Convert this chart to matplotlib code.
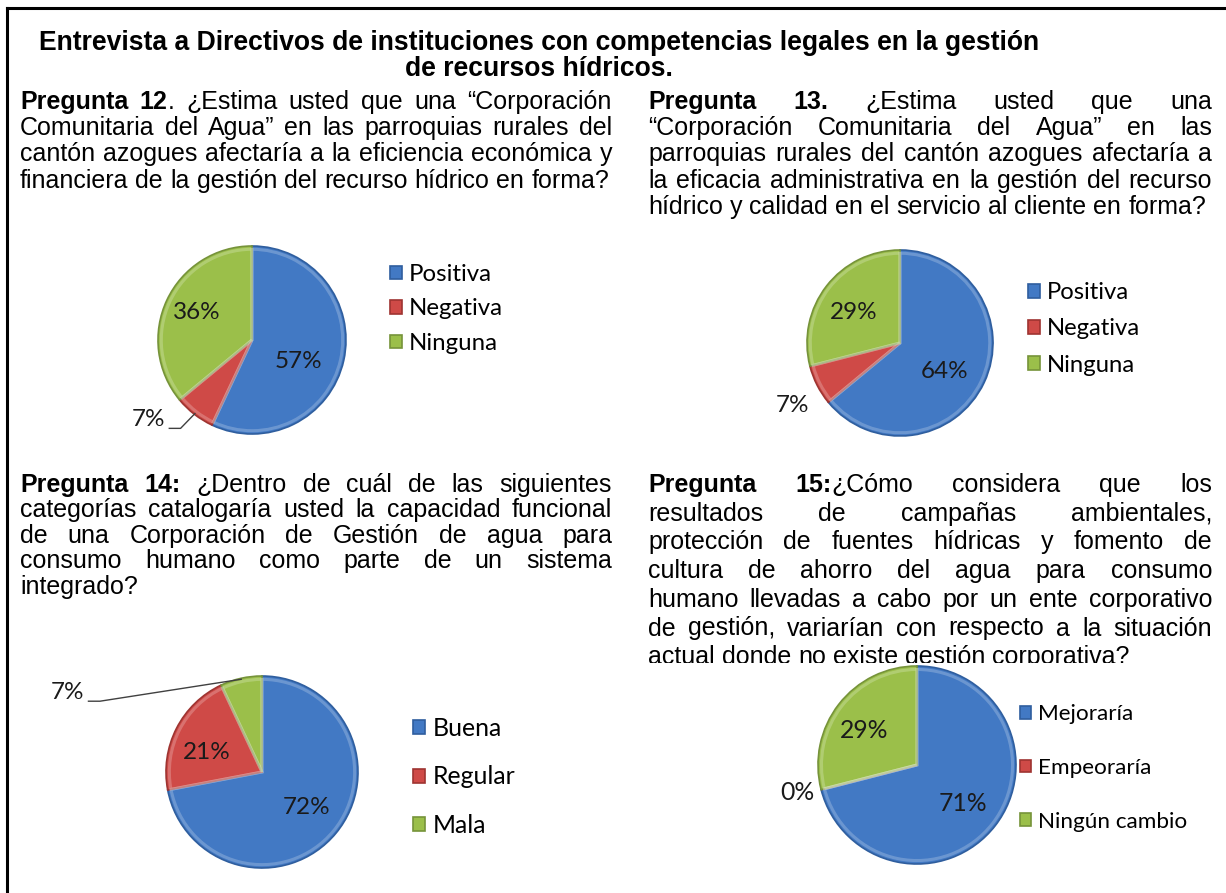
import numpy as np
import matplotlib
matplotlib.use('Agg')
import matplotlib.pyplot as plt
from matplotlib.lines import Line2D

# ---- data ----
q12_labels = ['Positiva', 'Negativa', 'Ninguna']
q12_values = [57, 7, 36]
q13_labels = ['Positiva', 'Negativa', 'Ninguna']
q13_values = [64, 7, 29]
q14_labels = ['Buena', 'Regular', 'Mala']
q14_values = [72, 21, 7]
q15_labels = ['Mejoraría', 'Empeoraría', 'Ningún cambio']
q15_values = [71, 0, 29]

title_lines = ['Entrevista a Directivos de instituciones con competencias legales en la gestión',
               'de recursos hídricos.']
q12_text = ['*Pregunta* *12*. ¿Estima usted que una “Corporación',
            'Comunitaria del Agua” en las parroquias rurales del',
            'cantón azogues  afectaría a la eficiencia económica y',
            'financiera de la gestión del recurso hídrico en forma?']
q13_text = ['*Pregunta* *13.* ¿Estima usted que una',
            '“Corporación Comunitaria del Agua” en las',
            'parroquias rurales del cantón azogues  afectaría a',
            'la eficacia administrativa en la gestión del recurso',
            'hídrico y calidad en el servicio al cliente en forma?']
q14_text = ['*Pregunta* *14:* ¿Dentro de cuál de las siguientes',
            'categorías catalogaría usted la capacidad funcional',
            'de una Corporación de Gestión de agua para',
            'consumo humano como parte de un sistema',
            'integrado?']
q15_text = ['*Pregunta* *15:*¿Cómo considera que los',
            'resultados de campañas ambientales,',
            'protección de fuentes hídricas  y fomento de',
            'cultura de ahorro del agua para consumo',
            'humano llevadas a cabo por un ente corporativo',
            'de gestión, variarían con respecto a la situación',
            'actual donde no existe gestión corporativa?']

colors = ['#4279C4', '#CF4A47', '#9BBF4A']
edges = ['#2F5E9E', '#9E3431', '#76933A']

W, H = 1226, 893
fig = plt.figure(figsize=(W / 100, H / 100), dpi=100)
fig.patch.set_facecolor('white')
renderer = fig.canvas.get_renderer()
TXT = dict(family='Liberation Sans', size=18.0, color='black')


def fx(x):
    return x / W


def fy(y):
    return 1 - y / H


def seg_width(s, bold):
    t = fig.text(0, 0, s, weight='bold' if bold else 'normal', **TXT)
    w = t.get_window_extent(renderer).width
    t.remove()
    return w


def parse(word):
    # text between '*' is bold
    return [(p, i % 2 == 1) for i, p in enumerate(word.split('*')) if p]


space = seg_width('a a', False) - seg_width('aa', False)


def paragraph(lines, x0, x1, y0, dy):
    for k, line in enumerate(lines):
        words = [parse(w) for w in line.split()]
        widths = [sum(seg_width(s, b) for s, b in w) for w in words]
        if k == len(lines) - 1 or len(words) < 2:
            gap = space
        else:
            gap = (x1 - x0 - sum(widths)) / (len(words) - 1)
        x = x0
        y = y0 + k * dy
        for w, wd in zip(words, widths):
            xx = x
            for s, b in w:
                fig.text(fx(xx), fy(y), s, ha='left', va='baseline',
                         weight='bold' if b else 'normal', zorder=1, **TXT)
                xx += seg_width(s, b)
            x += wd + gap


# frame (top and left edges visible)
fig.add_artist(Line2D([fx(7), fx(W)], [fy(8), fy(8)], color='black', lw=2.2))
fig.add_artist(Line2D([fx(7), fx(7)], [fy(8), fy(H)], color='black', lw=2.2))

for k, line in enumerate(title_lines):
    fig.text(fx(539), fy(50 + k * 26.5), line, ha='center', va='baseline',
             weight='bold', **dict(TXT, size=19.1))

paragraph(q12_text, 20, 612, 109, 26.2)
paragraph(q13_text, 648, 1212, 109, 26.2)
paragraph(q14_text, 20, 612, 492, 25.4)
paragraph(q15_text, 648, 1212, 492, 28.7)


def pie(rect, center, r, values, labels, lab_place, leader, leg_xy, leg_size,
        lab_size, leg_spacing, cover=False):
    L, T, R, B = rect
    cx, cy = center
    ax = fig.add_axes([fx(L), fy(B), (R - L) / W, (B - T) / H])
    wedges, _ = ax.pie(values, colors=colors, startangle=90, counterclock=False,
                       radius=1, wedgeprops=dict(linewidth=1.2))
    # soft highlight to hint the bevelled look
    ax.pie(values, colors=['none'] * 3, startangle=90, counterclock=False,
           radius=0.965, wedgeprops=dict(linewidth=2.2, edgecolor=(1, 1, 1, 0.22)))
    ax.set_aspect('auto')
    ax.set_xlim((L - cx) / r, (R - cx) / r)
    ax.set_ylim((cy - B) / r, (cy - T) / r)
    ax.set_xticks([])
    ax.set_yticks([])
    for s in ax.spines.values():
        s.set_visible(False)
    if cover:
        # white chart area hides the bottom of the text above it
        ax.set_frame_on(True)
        for s in ax.spines.values():
            s.set_visible(False)
        ax.set_facecolor('white')
        ax.set_zorder(5)
    else:
        ax.patch.set_visible(False)
    for wdg, ec in zip(wedges, edges):
        wdg.set_edgecolor(ec)
    for i, (wdg, v) in enumerate(zip(wedges, values)):
        mid = (wdg.theta1 + wdg.theta2) / 2
        d, da = lab_place[i]
        a = np.deg2rad(mid + da)
        px, py = d * np.cos(a), d * np.sin(a)
        ax.text(px, py, f'{v}%', ha='center', va='center', family='Lato',
                size=lab_size, color='#1A1A1A')
        if leader is not None and leader == i:
            m = np.deg2rad(mid)
            ax.plot([px + 0.22, px + 0.34, 0.99 * np.cos(m)],
                    [py - 0.09, py - 0.09, 0.99 * np.sin(m)],
                    color='#404040', lw=1.0)
    ax.legend(wedges, labels, loc='center left',
              bbox_to_anchor=(fx(leg_xy[0]), fy(leg_xy[1])),
              bbox_transform=fig.transFigure, frameon=False,
              prop=dict(family='Lato', size=leg_size),
              handlelength=0.5, handleheight=0.5, handletextpad=0.3,
              labelspacing=leg_spacing, borderpad=0, borderaxespad=0)
    return ax


pie((100, 235, 560, 445), (252, 340), 94, q12_values, q12_labels,
    [(0.54, -12.4), (1.39, -14.5), (0.66, -1.0)], 1,
    (390, 309), 17.3, 17.5, 0.56)
pie((700, 240, 1220, 445), (900, 343), 93, q13_values, q13_labels,
    [(0.57, -7.7), (1.34, 3.0), (0.60, 4.4)], None,
    (1028, 329), 17.2, 17.5, 0.63)
pie((20, 660, 600, 880), (262, 772), 96, q14_values, q14_labels,
    [(0.60, 1.0), (0.61, 8.0), (2.19, 55.2)], 2,
    (413, 777), 17.9, 17.5, 1.02)
pie((640, 663, 1222, 885), (917, 765), 99, q15_values, q15_labels,
    [(0.60, -2.0), (1.24, -1.4), (0.635, 4.4)], None,
    (1020, 768), 16.2, 17.8, 1.5, cover=True)

fig.savefig('out.png', dpi=100)
